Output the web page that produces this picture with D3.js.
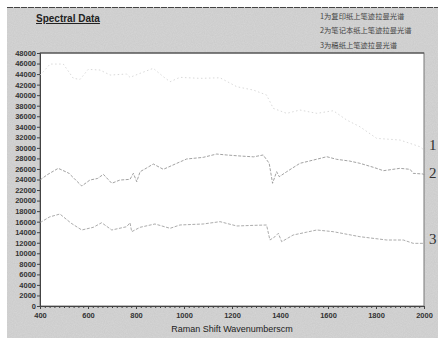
<!DOCTYPE html>
<html>
<head>
<meta charset="utf-8">
<script src="https://cdn.jsdelivr.net/npm/d3@7"></script>
<style>
  html, body { margin: 0; padding: 0; background: #fff; }
  svg { display: block; }
</style>
</head>
<body>
<svg id="chart" width="438" height="346"></svg>
<script>
// Series 1 - copy paper (top, faint dotted)
const series1X = [400, 414, 442, 497, 539, 567, 601, 650, 692, 761, 775, 817, 872, 914, 942, 983, 1067, 1150, 1220, 1289, 1344, 1372, 1428, 1483, 1553, 1622, 1678, 1733, 1803, 1900, 1983, 2000];
const series1Y = [43800, 44450, 45900, 45900, 43190, 43000, 44900, 44770, 43820, 44010, 43380, 44140, 45090, 43500, 42550, 43380, 43190, 43300, 41600, 40970, 40030, 37500, 36550, 37180, 36550, 37050, 35280, 34010, 31800, 31490, 30220, 29600];

// Series 2 - notebook paper
const series2X = [400, 430, 476, 520, 574, 608, 640, 664, 699, 733, 775, 789, 803, 817, 845, 872, 914, 970, 1011, 1080, 1136, 1178, 1233, 1290, 1330, 1355, 1369, 1386, 1397, 1428, 1483, 1540, 1595, 1636, 1690, 1733, 1790, 1831, 1900, 1942, 1955, 1997, 2000];
const series2Y = [23900, 24900, 26120, 25200, 22760, 23900, 24200, 24980, 23280, 23900, 24030, 25170, 23580, 25480, 26200, 26940, 25930, 27070, 27890, 28200, 28830, 28650, 28460, 28300, 28650, 27070, 23280, 25480, 24530, 25480, 27070, 27700, 28320, 27830, 27500, 27070, 26300, 25670, 26120, 25930, 25170, 25040, 24900];

// Series 3 - draft paper
const series3X = [400, 407, 440, 483, 530, 574, 622, 657, 699, 761, 775, 782, 817, 879, 942, 983, 1080, 1150, 1220, 1290, 1344, 1358, 1379, 1393, 1407, 1455, 1510, 1553, 1622, 1680, 1733, 1845, 1914, 1955, 1997, 2000];
const series3Y = [15900, 16000, 16900, 17450, 15700, 14420, 14930, 15800, 14420, 15040, 15800, 14100, 14930, 15560, 14740, 15370, 15560, 16000, 15180, 15300, 15370, 12520, 13150, 13790, 12200, 13470, 14000, 14420, 14100, 13600, 13150, 12520, 12520, 11890, 11890, 11800];

const yTickValues = d3.range(0, 48001, 2000);
const xTickValues = [400, 600, 800, 1000, 1200, 1400, 1600, 1800, 2000];
const legendLines = ["1为复印纸上笔迹拉曼光谱", "2为笔记本纸上笔迹拉曼光谱", "3为稿纸上笔迹拉曼光谱"];
const endLabels = ["1", "2", "3"];
const endLabelValues = [30500, 25300, 12700];

const svg = d3.select("#chart");
const width = 438, height = 346;
const margin = { left: 40, top: 53, right: 14, bottom: 40 };
const plotW = width - margin.left - margin.right;
const plotH = height - margin.top - margin.bottom;

// scanned paper grain
const defs = svg.append("defs");
const grain = defs.append("filter").attr("id", "grain")
  .attr("x", 0).attr("y", 0).attr("width", "100%").attr("height", "100%");
grain.append("feTurbulence").attr("type", "fractalNoise")
  .attr("baseFrequency", 0.9).attr("numOctaves", 2).attr("seed", 3).attr("result", "n");
grain.append("feColorMatrix").attr("in", "n").attr("type", "matrix")
  .attr("values", "0 0 0 0 0.45  0 0 0 0 0.45  0 0 0 0 0.45  0 0 0 0.35 0")
  .attr("result", "g");
grain.append("feComposite").attr("in", "g").attr("in2", "SourceGraphic").attr("operator", "in");

svg.append("rect").attr("x", 7).attr("y", 7).attr("width", width - 7).attr("height", 331)
  .attr("fill", "#d6d6d6");
svg.append("rect").attr("x", 7).attr("y", 7).attr("width", width - 7).attr("height", 331)
  .attr("fill", "#d6d6d6").attr("filter", "url(#grain)");
svg.append("line").attr("x1", 7).attr("x2", width).attr("y1", 7.5).attr("y2", 7.5)
  .attr("stroke", "#444").attr("stroke-width", 1).attr("stroke-dasharray", "6,1");

const x = d3.scaleLinear().domain([400, 2000]).range([margin.left, margin.left + plotW]);
const y = d3.scaleLinear().domain([0, 48000]).range([margin.top + plotH, margin.top]);

// plot area
svg.append("rect")
  .attr("x", margin.left).attr("y", margin.top)
  .attr("width", plotW).attr("height", plotH)
  .attr("fill", "#fff")
  .attr("stroke", "#777").attr("stroke-width", 1);
svg.append("line")
  .attr("x1", margin.left).attr("x2", margin.left + plotW)
  .attr("y1", margin.top).attr("y2", margin.top)
  .attr("stroke", "#444").attr("stroke-width", 1.2);

// axes
const yAxis = svg.append("g")
  .attr("transform", `translate(${margin.left},0)`)
  .call(d3.axisLeft(y).tickValues(yTickValues).tickFormat(d3.format("d")).tickSize(3).tickPadding(1));
const xAxis = svg.append("g")
  .attr("transform", `translate(0,${margin.top + plotH})`)
  .call(d3.axisBottom(x).tickValues(xTickValues).tickFormat(d3.format("d")).tickSize(3).tickPadding(4));
const xMinor = svg.append("g")
  .attr("transform", `translate(0,${margin.top + plotH})`)
  .call(d3.axisBottom(x).tickValues(d3.range(420, 2000, 20)).tickSize(2).tickFormat(""));

[yAxis, xAxis, xMinor].forEach((g) => {
  g.select(".domain").attr("stroke", "#444");
  g.selectAll(".tick line").attr("stroke", "#444");
  g.selectAll("text")
    .attr("fill", "#333")
    .attr("font-family", "Arial, 'Liberation Sans', sans-serif")
    .attr("font-size", 7.5)
    .attr("font-weight", "bold");
});

// series
const line = d3.line().x((d) => x(d[0])).y((d) => y(d[1]));
const pairs = (xs, ys) => xs.map((v, i) => [v, ys[i]]);

svg.append("path").datum(pairs(series1X, series1Y))
  .attr("d", line).attr("fill", "none")
  .attr("stroke", "#cfcfcf").attr("stroke-width", 0.8)
  .attr("stroke-dasharray", "1.5,2.5");
svg.append("path").datum(pairs(series2X, series2Y))
  .attr("d", line).attr("fill", "none")
  .attr("stroke", "#8a8a8a").attr("stroke-width", 0.8)
  .attr("stroke-dasharray", "3,1.5");
svg.append("path").datum(pairs(series3X, series3Y))
  .attr("d", line).attr("fill", "none")
  .attr("stroke", "#959595").attr("stroke-width", 0.8)
  .attr("stroke-dasharray", "3,1.5");

// title
svg.append("text")
  .attr("x", 36).attr("y", 22)
  .attr("font-family", "Arial, 'Liberation Sans', sans-serif")
  .attr("font-size", 10).attr("font-weight", "bold")
  .attr("text-decoration", "underline")
  .attr("fill", "#222")
  .text("Spectral Data");

// legend notes
svg.append("g").selectAll("text")
  .data(legendLines)
  .join("text")
  .attr("x", 320)
  .attr("y", (d, i) => 18.5 + i * 14.5)
  .attr("font-family", "'Noto Sans CJK SC', sans-serif")
  .attr("font-size", 7.3)
  .attr("fill", "#444")
  .text((d) => d);

// curve end labels
svg.append("g").selectAll("text")
  .data(endLabels)
  .join("text")
  .attr("x", 429)
  .attr("y", (d, i) => y(endLabelValues[i]) + 5)
  .attr("font-family", "'Liberation Serif', 'DejaVu Serif', serif")
  .attr("font-size", 15)
  .attr("fill", "#333")
  .text((d) => d);

// x axis title
svg.append("text")
  .attr("x", margin.left + plotW / 2).attr("y", 332)
  .attr("text-anchor", "middle")
  .attr("font-family", "Arial, 'Liberation Sans', sans-serif")
  .attr("font-size", 9)
  .attr("fill", "#222")
  .text("Raman Shift Wavenumberscm");
</script>
</body>
</html>
